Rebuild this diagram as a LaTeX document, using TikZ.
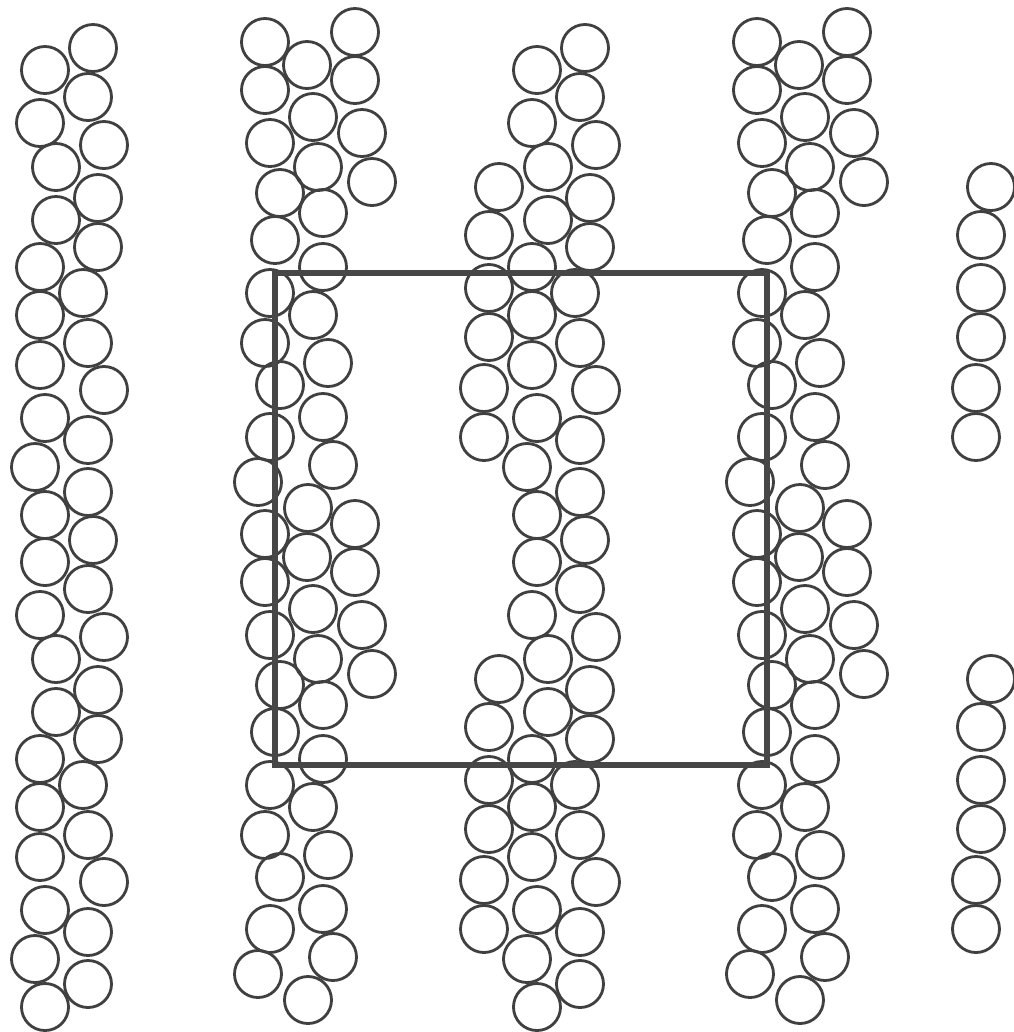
\documentclass[tikz,border=0pt]{standalone}
\usepackage{tikz}

% one period of each strand, in pixels of the cell (period 492)
\def\strandA{93/48, 45/70, 88/97, 40/123, 104/145, 56/167, 98/198, 56/220,
  98/247, 40/267, 83/293, 40/315, 88/343, 40/365, 104/390, 45/418, 88/440,
  35/467, 88/492, 45/515}
\def\strandAedge{7/187, -3/235, -3/288, -3/337, -8/388, -8/437}
\def\strandB{355/32, 265/42, 307/65, 355/80, 265/90, 313/117, 362/133,
  270/143, 318/167, 372/182, 280/193, 323/213, 275/240, 323/267, 270/293,
  313/315, 265/343, 328/363, 280/385, 323/417, 270/437, 333/465, 258/482,
  308/508}

\begin{document}
\begin{tikzpicture}[x=0.01cm,y=-0.01cm,
    grain/.style={draw=black!75,line width=0.8pt},
    cellbox/.style={draw=black!72,line width=1.5pt}]
  \useasboundingbox (0,0) rectangle (1014,1032);
  % double strands (left edge and middle)
  \foreach \dx/\dy in {0/0,0/492,492/0,492/492}
    \foreach \x/\y in \strandA
      \draw[grain] (\x+\dx,\y+\dy) circle[radius=0.235cm];
  % their loose outer grains (middle and right edge)
  \foreach \dx/\dy in {492/0,492/492,984/0,984/492}
    \foreach \x/\y in \strandAedge
      \draw[grain] (\x+\dx,\y+\dy) circle[radius=0.235cm];
  % triple strands
  \foreach \dx/\dy in {0/0,0/492,492/0,492/492}
    \foreach \x/\y in \strandB
      \draw[grain] (\x+\dx,\y+\dy) circle[radius=0.235cm];
  % periodic cell
  \draw[cellbox] (275,273) rectangle (767,765);
\end{tikzpicture}
\end{document}
